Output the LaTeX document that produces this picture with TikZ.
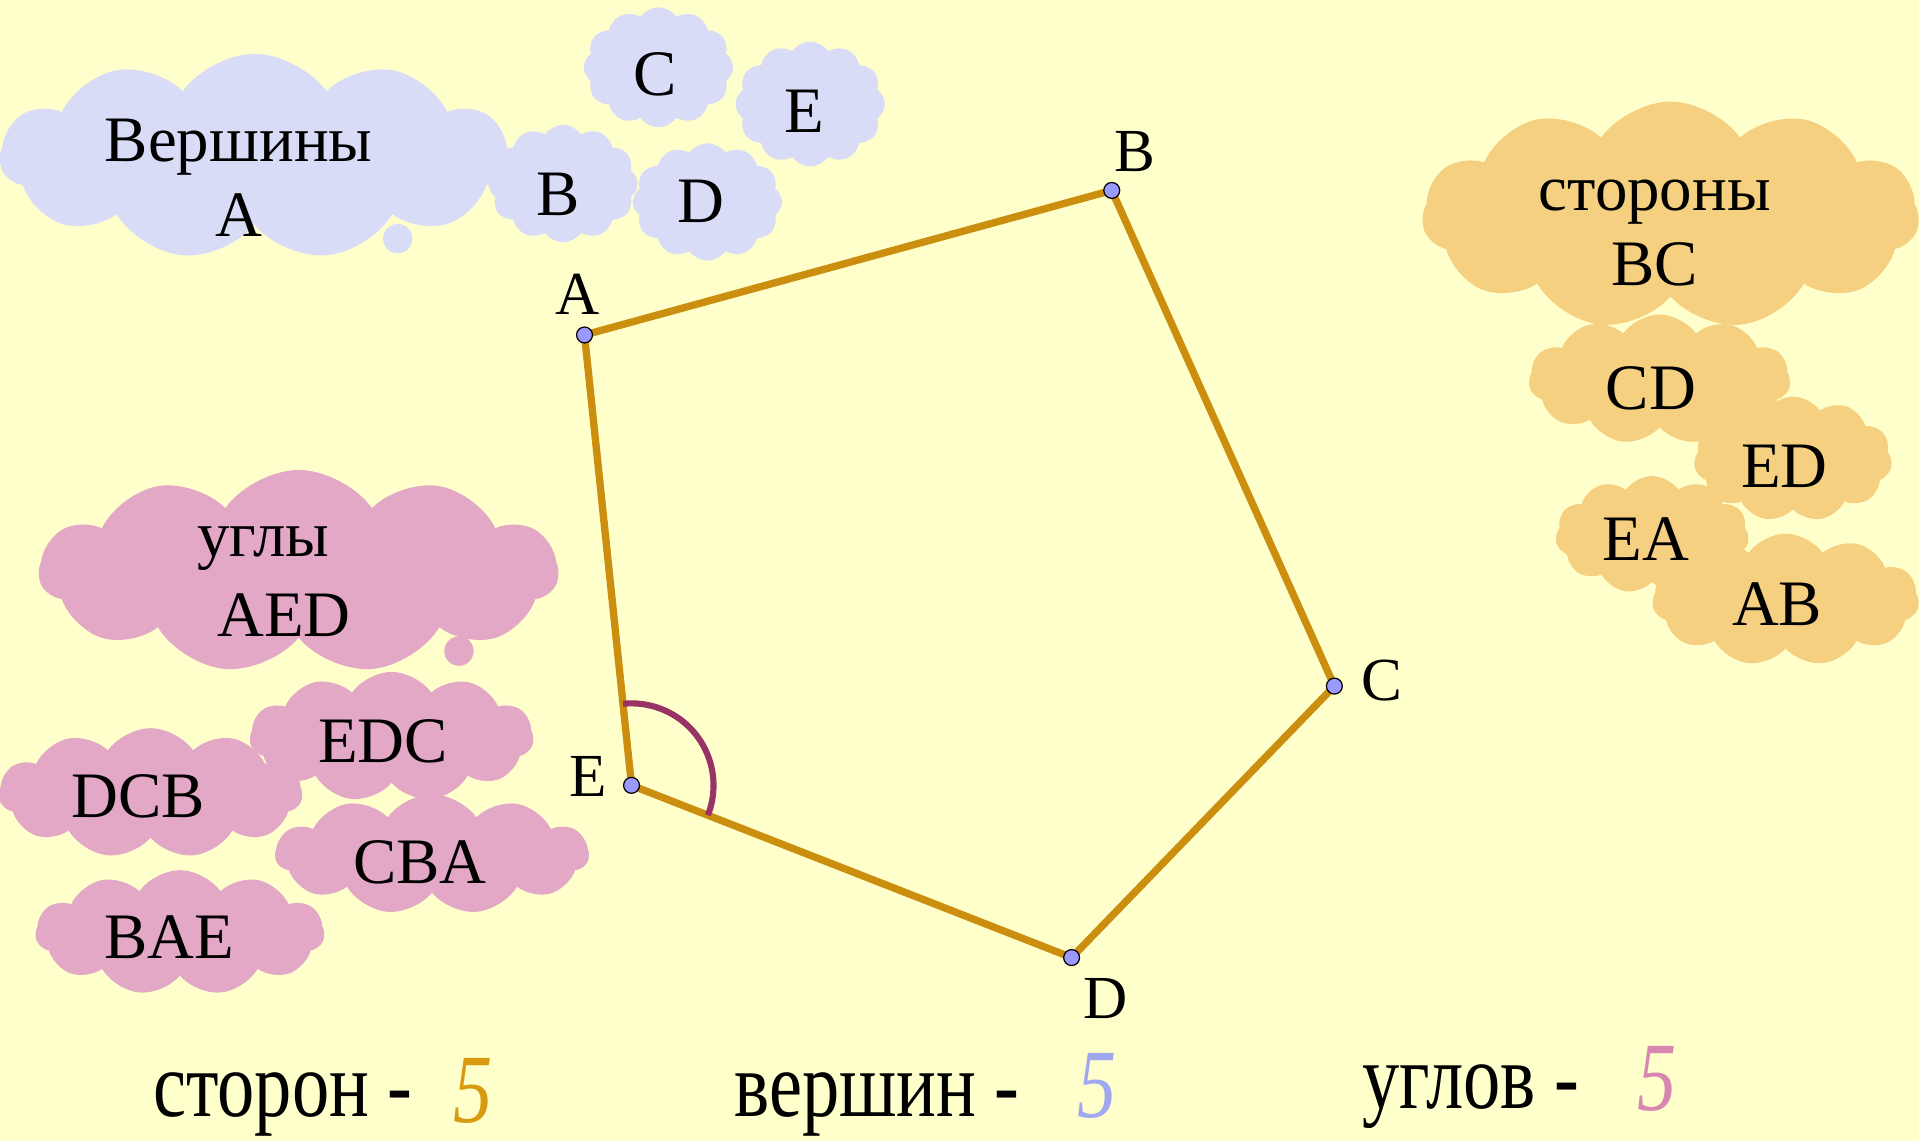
\documentclass[tikz,border=0pt]{standalone}
\usepackage{fontspec}
\setmainfont{Liberation Serif}
\usetikzlibrary{shapes.symbols,angles}
\definecolor{bg}{RGB}{255,255,204}
\definecolor{vblue}{RGB}{217,220,247}
\definecolor{sorange}{RGB}{244,208,128}
\definecolor{apink}{RGB}{226,168,198}
\definecolor{edgec}{RGB}{204,142,14}
\definecolor{dotc}{RGB}{153,153,255}
\definecolor{arcc}{RGB}{153,51,102}
\definecolor{fiveo}{RGB}{216,155,16}
\definecolor{fiveb}{RGB}{160,168,240}
\definecolor{fivep}{RGB}{216,136,176}
\begin{document}
\begin{tikzpicture}[x=1pt,y=-1pt,
  cloudbase/.style={cloud, cloud ignores aspect, cloud puffs=#1, cloud puff arc=110, draw=none, inner sep=0pt, outer sep=0pt},
  vcl/.style={cloudbase=#1, fill=vblue},
  scl/.style={cloudbase=#1, fill=sorange},
  acl/.style={cloudbase=#1, fill=apink},
  tail/.style={circle, inner sep=0pt, minimum size=24pt},
  lbl/.style={inner sep=0pt, anchor=base, font=\fontsize{53}{57}\selectfont},
  vlbl/.style={inner sep=0pt, anchor=base, font=\fontsize{50}{54}\selectfont},
  bot/.style={inner sep=0pt, anchor=base west, font=\fontsize{76}{80}\selectfont, xscale=0.8},
  five/.style={inner sep=0pt, anchor=base west, font=\fontsize{80}{84}\selectfont\itshape, xscale=0.8},
  vdot/.style={circle, fill=dotc, draw=black, line width=1pt, minimum size=13pt, inner sep=0pt},
  side/.style={draw=edgec, line width=6pt, line cap=round},
]
\useasboundingbox (0,0) rectangle (1568,932);
\fill[bg] (0,0) rectangle (1568,932);

% vertex clouds
\node[vcl=11, minimum width=416pt, minimum height=168pt] (vc0) at (208,128) {};
\node[tail, fill=vblue] (vtail) at (325,195) {};
\node[vcl=12, minimum width=122pt, minimum height=98pt] (vcC) at (538,55) {};
\node[vcl=12, minimum width=122pt, minimum height=102pt] (vcE) at (662,85) {};
\node[vcl=12, minimum width=122pt, minimum height=96pt] (vcB) at (460,150) {};
\node[vcl=12, minimum width=122pt, minimum height=96pt] (vcD) at (578,165) {};
\node[lbl] (tv1) at (195,132) {Вершины};
\node[lbl] (tv2) at (195,193) {A};
\node[lbl] (tvC) at (535,78) {C};
\node[lbl] (tvE) at (657,108) {E};
\node[lbl] (tvB) at (456,176) {B};
\node[lbl] (tvD) at (573,182) {D};

% side clouds
\node[scl=11, minimum width=406pt, minimum height=186pt] (sc0) at (1365,176) {};
\node[scl=11, minimum width=214pt, minimum height=106pt] (scCD) at (1356,310) {};
\node[scl=11, minimum width=162pt, minimum height=102pt] (scED) at (1465,375) {};
\node[scl=11, minimum width=158pt, minimum height=96pt] (scEA) at (1350,437) {};
\node[scl=11, minimum width=218pt, minimum height=108pt] (scAB) at (1459,490) {};
\node[lbl] (ts1) at (1352,172) {стороны};
\node[lbl] (ts2) at (1352,233) {BC};
\node[lbl] (tsCD) at (1349,335) {CD};
\node[lbl] (tsED) at (1458,398) {ED};
\node[lbl] (tsEA) at (1345,458) {EA};
\node[lbl] (tsAB) at (1452,511) {AB};

% angle clouds
\node[acl=11, minimum width=424pt, minimum height=166pt] (ac0) at (244,467) {};
\node[tail, fill=apink] (atail) at (375,532) {};
\node[acl=11, minimum width=232pt, minimum height=106pt] (acEDC) at (320,602) {};
\node[acl=11, minimum width=248pt, minimum height=106pt] (acDCB) at (123,648) {};
\node[acl=11, minimum width=256pt, minimum height=98pt] (acCBA) at (353,698) {};
\node[acl=11, minimum width=236pt, minimum height=102pt] (acBAE) at (147,762) {};
\node[lbl] (ta1) at (215,455) {углы};
\node[lbl] (ta2) at (232,520) {AED};
\node[lbl] (taEDC) at (313,623) {EDC};
\node[lbl] (taDCB) at (113,668) {DCB};
\node[lbl] (taCBA) at (343,722) {CBA};
\node[lbl] (taBAE) at (138,783) {BAE};

% pentagon
\coordinate (A) at (477.6,273.7);
\coordinate (B) at (908.4,155.6);
\coordinate (C) at (1090.3,560.6);
\coordinate (D) at (875.6,782.4);
\coordinate (E) at (516,641.7);
\draw[side] (A) -- (B) -- (C) -- (D) -- (E) -- cycle;
\pic[draw=arcc, line width=5pt, angle radius=67pt] {angle=D--E--A};
\foreach \p in {A,B,C,D,E} \node[vdot] (dot\p) at (\p) {};
\node[vlbl] (lA) at (472,257) {A};
\node[vlbl] (lB) at (927,140) {B};
\node[vlbl] (lC) at (1129,572) {C};
\node[vlbl] (lD) at (903,832) {D};
\node[vlbl] (lE) at (481,651) {E};

% bottom
\node[bot] (b1) at (125,912) {сторон -};
\node[five, text=fiveo] (f1) at (370,917) {5};
\node[bot] (b2) at (600,912) {вершин -};
\node[five, text=fiveb] (f2) at (880,913) {5};
\node[bot] (b3) at (1113,906) {углов -};
\node[five, text=fivep] (f3) at (1338,907) {5};
\end{tikzpicture}
\end{document}
